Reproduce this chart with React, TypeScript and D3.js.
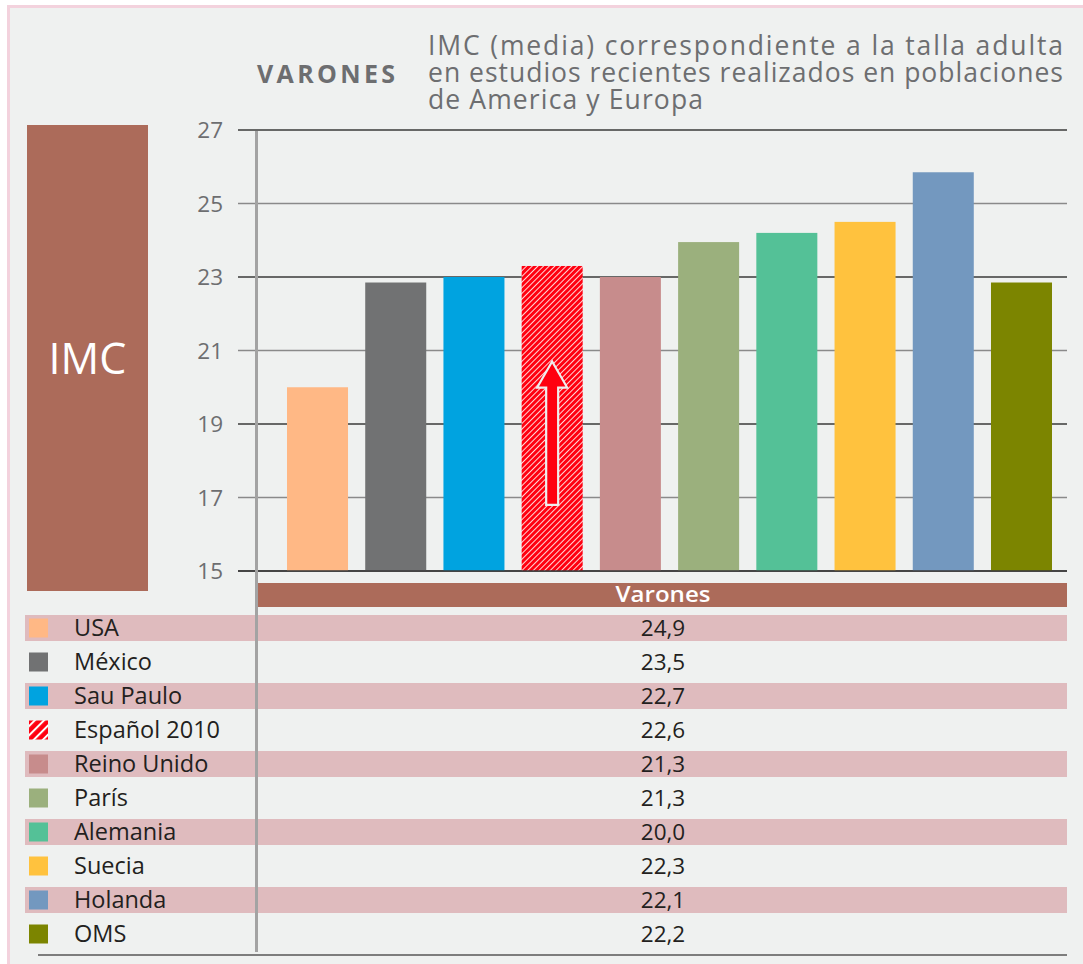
import React from "react"
import * as d3 from "d3"

// bar chart values
const countries = ["USA", "México", "Sau Paulo", "Español 2010", "Reino Unido", "París", "Alemania", "Suecia", "Holanda", "OMS"]
const barValues = [20.0, 22.85, 23.0, 23.3, 23.0, 23.95, 24.2, 24.5, 25.85, 22.85]
// values printed in the table under the chart
const tableValues = ["24,9", "23,5", "22,7", "22,6", "21,3", "21,3", "20,0", "22,3", "22,1", "22,2"]
const barColors = ["#ffb885", "#717273", "#00a3e0", "hatch", "#c78c8c", "#9bb07d", "#54c197", "#ffc23e", "#7398bf", "#7c8500"]
const yTicks = [15, 17, 19, 21, 23, 25, 27]
const titleLines = [
  "IMC (media) correspondiente a la talla adulta",
  "en estudios recientes realizados en poblaciones",
  "de America y Europa"
]
// arrow drawn inside the Español bar, in IMC units
const arrowFrom = 16.8
const arrowTo = 20.7

const W = 1083
const H = 964
const FONT = "'Open Sans', 'Noto Sans', sans-serif"
const BROWN = "#ac6b5a"
const GREY_TXT = "#6d6e70"

export default function App() {
  const y = d3.scaleLinear().domain([15, 27]).range([571, 130])
  const x = d3.scaleBand<string>()
    .domain(countries)
    .range([278.4, 1060.6])
    .paddingInner(0.22)
    .paddingOuter(0.11)
  const row = d3.scaleBand<string>()
    .domain(countries)
    .range([611, 951])
    .paddingInner(0.235)
    .paddingOuter(0.1175)

  const fillFor = (c: string, legend?: boolean) =>
    c === "hatch" ? (legend ? "url(#hatchBig)" : "url(#hatch)") : c

  const espIdx = countries.indexOf("Español 2010")
  const ax = x(countries[espIdx])! + x.bandwidth() / 2
  const tipY = y(arrowTo)
  const baseY = y(arrowFrom)
  const headLen = 26
  const arrowPath = d3.path()
  arrowPath.moveTo(ax, tipY)
  arrowPath.lineTo(ax + 15, tipY + headLen)
  arrowPath.lineTo(ax + 6, tipY + headLen)
  arrowPath.lineTo(ax + 6, baseY)
  arrowPath.lineTo(ax - 6, baseY)
  arrowPath.lineTo(ax - 6, tipY + headLen)
  arrowPath.lineTo(ax - 15, tipY + headLen)
  arrowPath.closePath()

  return (
    <svg width={W} height={H} style={{ position: "absolute", left: 0, top: 0, display: "block" }} fontFamily={FONT}>
      <defs>
        <pattern id="hatch" width={4} height={4} patternUnits="userSpaceOnUse" patternTransform="rotate(45)">
          <rect width={4} height={4} fill="#ff0010" />
          <rect x={0} width={1} height={4} fill="#ffd6d6" />
        </pattern>
        <pattern id="hatchBig" width={6.5} height={6.5} patternUnits="userSpaceOnUse" patternTransform="rotate(45)">
          <rect width={6.5} height={6.5} fill="#ff0010" />
          <rect x={0} width={2} height={6.5} fill="#ffffff" />
        </pattern>
      </defs>

      <rect width={W} height={H} fill="#ffffff" />
      <rect x={7} y={5} width={W - 7} height={H - 5} fill="#f3d2dd" />
      <rect x={10} y={8} width={W - 10} height={H - 8} fill="#eff1f0" />

      {/* title */}
      <text x={257} y={83} fontSize={25} fontWeight="bold" fill={GREY_TXT} textLength={138} lengthAdjust="spacing">
        VARONES
      </text>
      {titleLines.map((t, i) => (
        <text
          key={i}
          x={428}
          y={55 + i * 27}
          fontSize={26.5}
          fill={GREY_TXT}
          textLength={i < 2 ? 635 : 275}
          lengthAdjust="spacing"
        >
          {t}
        </text>
      ))}

      {/* IMC box */}
      <rect x={27} y={125} width={121} height={466} fill={BROWN} />
      <text x={87.5} y={374} fontSize={43} fill="#ffffff" textAnchor="middle">IMC</text>

      {/* grid + y labels */}
      {yTicks.map((t, i) => (
        <g key={t}>
          <line
            x1={238}
            x2={1067}
            y1={y(t)}
            y2={y(t)}
            stroke={i % 2 === 0 ? "#3a3a3a" : "#8a8a8a"}
            strokeWidth={1.6}
          />
          <text x={223} y={y(t) + 8} fontSize={22.5} fill={GREY_TXT} textAnchor="end">{t}</text>
        </g>
      ))}

      {/* bars */}
      {countries.map((c, i) => (
        <rect
          key={c}
          x={x(c)}
          y={y(barValues[i])}
          width={x.bandwidth()}
          height={y(15) - y(barValues[i])}
          fill={fillFor(barColors[i])}
        />
      ))}
      <path d={arrowPath.toString()} fill="#ff0010" stroke="#eeeeee" strokeWidth={2.2} strokeLinejoin="miter" />

      {/* baseline over bars */}
      <line x1={238} x2={1067} y1={y(15)} y2={y(15)} stroke="#3a3a3a" strokeWidth={1.6} />

      {/* table header */}
      <rect x={258} y={583} width={809} height={24} fill={BROWN} />
      <text x={663} y={602} fontSize={22} fontWeight={600} fill="#ffffff" textAnchor="middle" textLength={95} lengthAdjust="spacingAndGlyphs">Varones</text>

      {/* table rows */}
      {countries.map((c, i) => {
        const ry = row(c)!
        const cy = ry + row.bandwidth() / 2
        return (
          <g key={c}>
            {i % 2 === 0 && <rect x={25} y={ry} width={1042} height={row.bandwidth()} fill="#dfbbbe" />}
            <rect x={29} y={cy - 9.5} width={19} height={19} fill={fillFor(barColors[i], true)} />
            <text x={74} y={cy + 8} fontSize={23.5} fill="#231f20">{c}</text>
            <text x={663} y={cy + 8} fontSize={22.5} fill="#231f20" textAnchor="middle">{tableValues[i]}</text>
          </g>
        )
      })}

      {/* vertical axis line */}
      <line x1={256.5} x2={256.5} y1={131} y2={952} stroke="#a3a3a3" strokeWidth={3} />
      {/* bottom rule */}
      <line x1={38} x2={1067} y1={955} y2={955} stroke="#7d7d7d" strokeWidth={2} />
    </svg>
  )
}
